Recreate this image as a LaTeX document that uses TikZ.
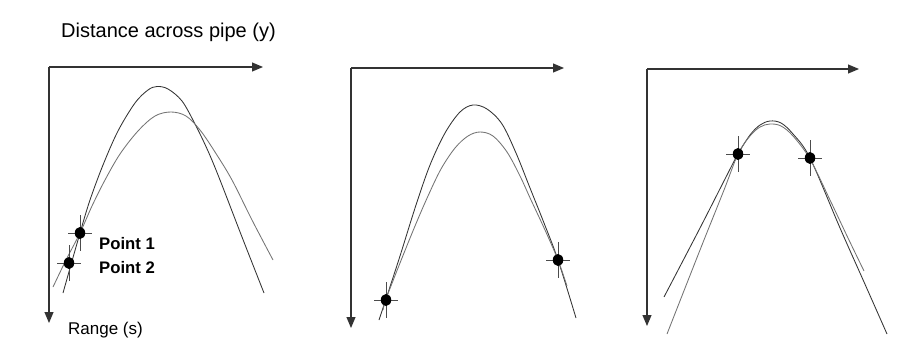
\documentclass[tikz,border=0pt]{standalone}
\usepackage{fontspec}
\setmainfont{Liberation Sans}
\usetikzlibrary{arrows.meta,shapes.geometric}
\begin{document}
\begin{tikzpicture}[x=1pt,y=-1pt,
  axis/.style={draw=black!80,line width=1.1pt,-{Triangle[length=11pt,width=9pt]}},
  crvdark/.style={draw=black!80,line width=0.85pt},
  crvgray/.style={draw=black!55,line width=0.85pt},
  cross/.style={draw=black!70,line width=0.7pt},
  dot/.style={ellipse,fill=black,inner sep=0pt,minimum width=10.5pt,minimum height=12pt},
  lbl/.style={anchor=base west,inner sep=0pt,text=black},
  ptlbl/.style={lbl,font=\fontsize{16.7}{18}\selectfont\bfseries}]
\useasboundingbox (0,0) rectangle (909,345);
% ---------- axes ----------
\coordinate (o1) at (49,67);  \coordinate (h1) at (263,67);  \coordinate (v1) at (49,323);
\coordinate (o2) at (351,68); \coordinate (h2) at (564,68);  \coordinate (v2) at (351,328);
\coordinate (o3) at (647,69); \coordinate (h3) at (859,69);  \coordinate (v3) at (647,326);
\draw[axis] (o1) -- (h1); \draw[axis] (o1) -- (v1);
\draw[axis] (o2) -- (h2); \draw[axis] (o2) -- (v2);
\draw[axis] (o3) -- (h3); \draw[axis] (o3) -- (v3);
% ---------- labels ----------
\node[lbl,font=\fontsize{20}{22}\selectfont] (ty) at (61,37.5) {Distance across pipe (y)};
\node[lbl,font=\fontsize{17}{19}\selectfont] (ts) at (68,334) {Range (s)};
\node[ptlbl] (l1) at (99,249.5) {Point 1};
\node[ptlbl] (l2) at (99,273) {Point 2};
% ---------- panel 1 curves ----------
\draw[crvdark] plot[smooth,tension=0.55] coordinates {(63,293) (80,233) (90,200) (103,165) (118,131) (135,103) (148,90) (157,86.5) (168,89) (182,101) (195,124) (208,151) (220,180) (242,237) (264,293)};
\draw[crvgray] plot[smooth,tension=0.55] coordinates {(53,287) (66,260) (80,233) (92,206) (105,180) (120,154) (138,131) (155,116) (171,112) (186,116) (200,130) (215,152) (232,180) (252,220) (273,260)};
% ---------- panel 2 curves ----------
\draw[crvdark] plot[smooth,tension=0.55] coordinates {(379,320) (386,299) (400,256) (416,205) (430,165) (445,133) (460,112) (473,105) (487,109) (502,124) (516,153) (530,188) (544,223) (558,260) (576,318)};
\draw[crvgray] plot[smooth,tension=0.55] coordinates {(383,310) (386,299) (400,263) (415,226) (428,196) (441,169) (455,148) (468,136) (480,132) (493,136) (507,152) (520,176) (531,200) (545,230) (558,260) (567,286)};
% ---------- panel 3 curves ----------
\draw[crvdark] plot[smooth,tension=0.55] coordinates {(664,297) (700,228) (726,177) (738,154) (750,135) (760,125) (770,121) (781,123) (793,134) (810,158) (840,228) (864,282) (887,334)};
\draw[crvgray] plot[smooth,tension=0.55] coordinates {(667,334) (700,250) (724,190) (738,154) (750,136) (760,127) (770,124) (781,126) (793,136) (810,159) (830,200) (848,238) (864,271)};
% ---------- measurement points ----------
\coordinate (c1) at (80,233);  \coordinate (c2) at (69,263);
\coordinate (c3) at (386,300); \coordinate (c4) at (558,260);
\coordinate (c5) at (738,154); \coordinate (c6) at (810,158);
\foreach \c in {c1,c2,c3,c4,c5,c6}{
  \draw[cross] (\c) ++(-12,0) -- ++(24,0);
  \draw[cross] (\c) ++(0,-18) -- ++(0,36);
}
\node[dot] (p1) at (c1) {};
\node[dot] (p2) at (c2) {};
\node[dot] (p3) at (c3) {};
\node[dot] (p4) at (c4) {};
\node[dot] (p5) at (c5) {};
\node[dot] (p6) at (c6) {};
\end{tikzpicture}
\end{document}
